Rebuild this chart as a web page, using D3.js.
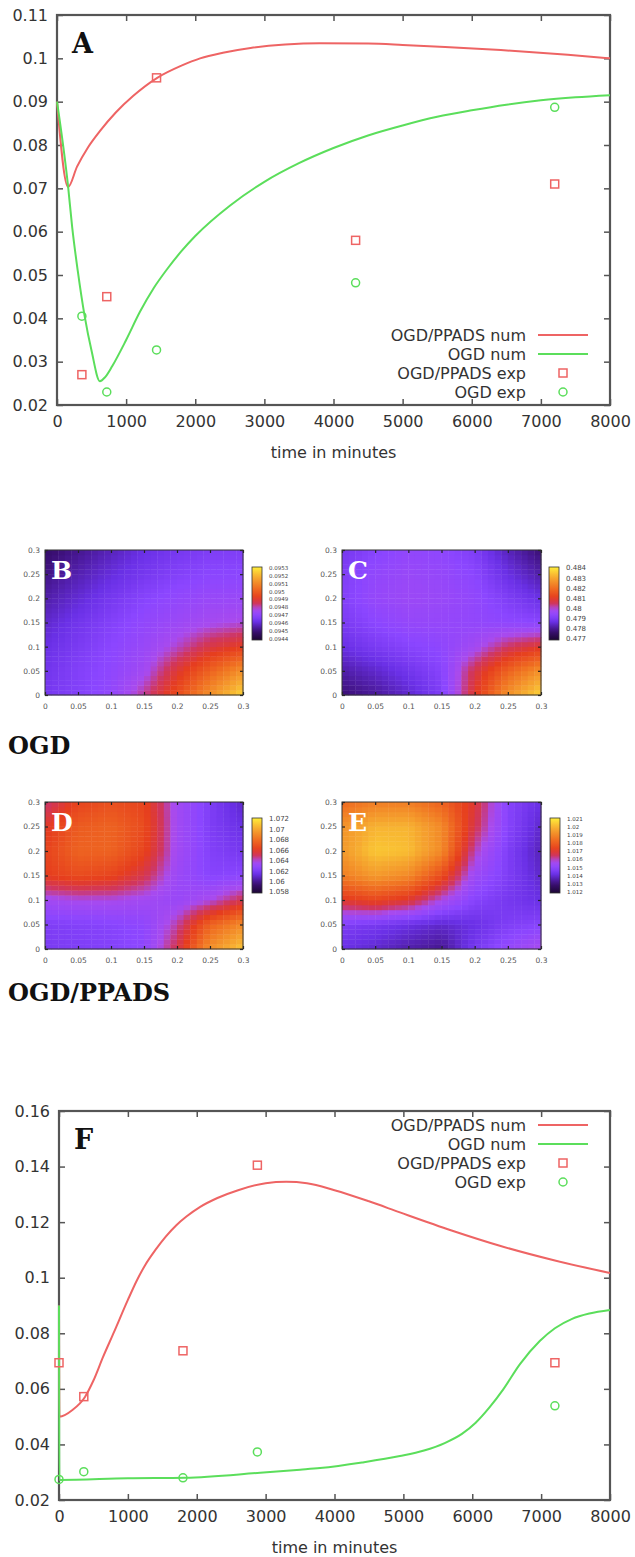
<!DOCTYPE html>
<html>
<head>
<meta charset="utf-8">
<script src="https://cdnjs.cloudflare.com/ajax/libs/d3/7.8.5/d3.min.js"></script>
<style>
  body { margin: 0; background: #fff; }
  svg { display: block; }
</style>
</head>
<body>
<div id="chart"></div>
<script>
// ---- panel A: time courses ----
var xTicks = [0, 1000, 2000, 3000, 4000, 5000, 6000, 7000, 8000];
var yTicksA = [0.02, 0.03, 0.04, 0.05, 0.06, 0.07, 0.08, 0.09, 0.1, 0.11];
var yTicksF = [0.02, 0.04, 0.06, 0.08, 0.1, 0.12, 0.14, 0.16];

var tPpadsNumA = [0, 160, 290, 450, 620, 850, 1100, 1450, 1800, 2070, 2400, 2800, 3300, 3800, 4500, 5000, 6420, 7390, 8000];
var vPpadsNumA = [0.09, 0.0703, 0.075, 0.0795, 0.0832, 0.0875, 0.0913, 0.0955, 0.0983, 0.1, 0.1013, 0.1024, 0.1032, 0.1035, 0.1034, 0.1031, 0.1019, 0.1008, 0.1];
var tOgdNumA = [0, 160, 220, 300, 400, 500, 620, 700, 800, 1000, 1200, 1400, 1600, 1800, 2000, 2500, 3000, 3500, 4000, 4500, 5000, 5500, 6000, 6500, 7000, 7500, 8000];
var vOgdNumA = [0.09, 0.0705, 0.061, 0.051, 0.0405, 0.0325, 0.0255, 0.0265, 0.029, 0.035, 0.0415, 0.047, 0.0515, 0.0555, 0.059, 0.066, 0.0715, 0.0758, 0.0793, 0.0822, 0.0845, 0.0865, 0.088, 0.0893, 0.0903, 0.091, 0.0915];
var tExpA = [360, 720, 1440, 4320, 7200];
var vPpadsExpA = [0.027, 0.045, 0.0955, 0.058, 0.071];
var vOgdExpA = [0.0405, 0.023, 0.0327, 0.0482, 0.0887];

// ---- panel F: time courses ----
var tPpadsNumF = [0, 5, 200, 377, 500, 640, 800, 1000, 1130, 1250, 1400, 1550, 1700, 1850, 2050, 2300, 2600, 3000, 3300, 3600, 4000, 4500, 4950, 5700, 6400, 7200, 8000];
var vPpadsNumF = [0.09, 0.05, 0.0525, 0.0571, 0.063, 0.0715, 0.0805, 0.092, 0.099, 0.1045, 0.11, 0.1148, 0.1188, 0.122, 0.1255, 0.1287, 0.1315, 0.134, 0.1345, 0.134, 0.1315, 0.1275, 0.1235, 0.117, 0.1115, 0.1062, 0.1017];
var tOgdNumF = [0, 5, 1000, 1830, 2920, 3500, 3790, 4400, 4950, 5300, 5600, 5850, 6050, 6250, 6450, 6690, 6980, 7200, 7450, 7700, 8000];
var vOgdNumF = [0.09, 0.0272, 0.0278, 0.028, 0.0298, 0.0309, 0.0315, 0.0335, 0.0358, 0.0378, 0.0405, 0.0438, 0.0478, 0.0533, 0.0598, 0.0688, 0.0772, 0.0818, 0.0852, 0.0871, 0.0884];
var tExpF = [0, 360, 1800, 2880, 7200];
var vPpadsExpF = [0.0694, 0.0572, 0.0737, 0.1405, 0.0694];
var vOgdExpF = [0.0274, 0.0302, 0.028, 0.0373, 0.0539];

var legendLabels = ["OGD/PPADS num", "OGD num", "OGD/PPADS exp", "OGD exp"];

// ---- heat maps B-E: colour level (0 = bottom of colour bar, 1 = top) ----
var gridX = [0, 0.05, 0.1, 0.15, 0.2, 0.25, 0.3];
var gridY = [0.3, 0.25, 0.2, 0.15, 0.1, 0.05, 0];   // rows, top to bottom
var hTickLabels = ["0", "0.05", "0.1", "0.15", "0.2", "0.25", "0.3"];

var levelsB = [
  [0.10, 0.15, 0.20, 0.25, 0.28, 0.30, 0.30],
  [0.14, 0.19, 0.24, 0.28, 0.31, 0.33, 0.33],
  [0.18, 0.23, 0.28, 0.32, 0.35, 0.37, 0.37],
  [0.22, 0.27, 0.31, 0.35, 0.38, 0.41, 0.43],
  [0.25, 0.29, 0.33, 0.37, 0.44, 0.53, 0.58],
  [0.27, 0.31, 0.34, 0.40, 0.55, 0.68, 0.80],
  [0.28, 0.31, 0.35, 0.47, 0.62, 0.80, 0.95]
];
var levelsC = [
  [0.28, 0.32, 0.35, 0.34, 0.30, 0.20, 0.12],
  [0.30, 0.35, 0.37, 0.36, 0.33, 0.25, 0.18],
  [0.31, 0.36, 0.38, 0.37, 0.35, 0.30, 0.25],
  [0.29, 0.33, 0.36, 0.36, 0.35, 0.34, 0.33],
  [0.25, 0.29, 0.32, 0.34, 0.40, 0.50, 0.56],
  [0.18, 0.22, 0.27, 0.32, 0.52, 0.68, 0.80],
  [0.12, 0.16, 0.22, 0.30, 0.56, 0.80, 0.95]
];
var levelsD = [
  [0.48, 0.60, 0.63, 0.60, 0.40, 0.30, 0.22],
  [0.56, 0.66, 0.68, 0.62, 0.40, 0.30, 0.25],
  [0.60, 0.68, 0.68, 0.60, 0.40, 0.31, 0.28],
  [0.58, 0.62, 0.60, 0.52, 0.38, 0.32, 0.33],
  [0.40, 0.42, 0.42, 0.40, 0.37, 0.42, 0.52],
  [0.30, 0.31, 0.32, 0.34, 0.46, 0.68, 0.78],
  [0.29, 0.30, 0.31, 0.34, 0.52, 0.80, 0.92]
];
var levelsE = [
  [0.70, 0.75, 0.75, 0.68, 0.55, 0.32, 0.25],
  [0.80, 0.88, 0.88, 0.78, 0.52, 0.32, 0.22],
  [0.82, 0.92, 0.90, 0.78, 0.45, 0.30, 0.20],
  [0.75, 0.82, 0.78, 0.62, 0.38, 0.30, 0.22],
  [0.56, 0.60, 0.55, 0.42, 0.32, 0.28, 0.25],
  [0.30, 0.28, 0.25, 0.22, 0.25, 0.30, 0.32],
  [0.25, 0.22, 0.18, 0.15, 0.28, 0.36, 0.42]
];

// colour bar tick labels (bottom to top)
var cbTicksB = ["0.0944", "0.0945", "0.0946", "0.0947", "0.0948", "0.0949", "0.095", "0.0951", "0.0952", "0.0953"];
var cbTicksC = ["0.477", "0.478", "0.479", "0.48", "0.481", "0.482", "0.483", "0.484"];
var cbTicksD = ["1.058", "1.06", "1.062", "1.064", "1.066", "1.068", "1.07", "1.072"];
var cbTicksE = ["1.012", "1.013", "1.014", "1.015", "1.016", "1.017", "1.018", "1.019", "1.02", "1.021"];

var RED = "#ee6464", GREEN = "#5bde5b";
var SANS = "DejaVu Sans, sans-serif", SERIF = "DejaVu Serif, serif";

var svg = d3.select("#chart").append("svg").attr("width", 635).attr("height", 1557);

function lineChart(c) {
    var x = d3.scaleLinear().domain([0, 8000]).range([c.left, c.right]);
    var y = d3.scaleLinear().domain([c.yTicks[0], c.yTicks[c.yTicks.length - 1]]).range([c.bottom, c.top]);
    var g = svg.append("g");

    var style = s => s.attr("font-family", SANS).attr("font-size", 16)
        .call(s => s.select(".domain").remove())
        .call(s => s.selectAll(".tick line").attr("stroke", "#555").attr("stroke-width", 1.5))
        .call(s => s.selectAll(".tick text").attr("fill", "#333"));

    g.append("g").attr("transform", `translate(0,${c.bottom})`)
        .call(d3.axisBottom(x).tickValues(xTicks).tickSize(-6).tickPadding(11).tickFormat(d3.format("d")))
        .call(style);
    g.append("g").attr("transform", `translate(0,${c.top})`)
        .call(d3.axisTop(x).tickValues(xTicks).tickSize(-6).tickFormat(""))
        .call(style);
    g.append("g").attr("transform", `translate(${c.left},0)`)
        .call(d3.axisLeft(y).tickValues(c.yTicks).tickSize(-6).tickPadding(9).tickFormat(d => String(d)))
        .call(style);
    g.append("g").attr("transform", `translate(${c.right},0)`)
        .call(d3.axisRight(y).tickValues(c.yTicks).tickSize(-6).tickFormat(""))
        .call(style);

    g.append("rect").attr("x", c.left).attr("y", c.top)
        .attr("width", c.right - c.left).attr("height", c.bottom - c.top)
        .attr("fill", "none").attr("stroke", "#555").attr("stroke-width", 2.2);

    g.append("text").attr("x", (c.left + c.right) / 2).attr("y", c.bottom + 53)
        .attr("text-anchor", "middle").attr("font-family", SANS).attr("font-size", 16)
        .attr("fill", "#333").text("time in minutes");

    var line = d3.line().x(d => x(d[0])).y(d => y(d[1])).curve(d3.curveMonotoneX);
    g.append("path").datum(d3.zip(c.tRed, c.vRed)).attr("d", line)
        .attr("fill", "none").attr("stroke", RED).attr("stroke-width", 2);
    g.append("path").datum(d3.zip(c.tGreen, c.vGreen)).attr("d", line)
        .attr("fill", "none").attr("stroke", GREEN).attr("stroke-width", 2);

    g.selectAll("rect.sq").data(d3.zip(c.tExp, c.vRedExp)).join("rect").attr("class", "sq")
        .attr("x", d => x(d[0]) - 4).attr("y", d => y(d[1]) - 4)
        .attr("width", 8).attr("height", 8)
        .attr("fill", "none").attr("stroke", RED).attr("stroke-width", 1.5);
    g.selectAll("circle.ci").data(d3.zip(c.tExp, c.vGreenExp)).join("circle").attr("class", "ci")
        .attr("cx", d => x(d[0])).attr("cy", d => y(d[1])).attr("r", 4)
        .attr("fill", "none").attr("stroke", GREEN).attr("stroke-width", 1.5);

    // legend
    var lg = g.append("g");
    legendLabels.forEach(function (lab, i) {
        var ly = c.legendY + i * 19;
        lg.append("text").attr("x", c.right - 84).attr("y", ly).attr("dy", "0.35em")
            .attr("text-anchor", "end").attr("font-family", SANS).attr("font-size", 16)
            .attr("fill", "#333").text(lab);
        var col = (i % 2 === 0) ? RED : GREEN;
        if (i < 2) {
            lg.append("line").attr("x1", c.right - 72).attr("x2", c.right - 22)
                .attr("y1", ly).attr("y2", ly).attr("stroke", col).attr("stroke-width", 2);
        } else if (i === 2) {
            lg.append("rect").attr("x", c.right - 51).attr("y", ly - 4).attr("width", 8).attr("height", 8)
                .attr("fill", "none").attr("stroke", col).attr("stroke-width", 1.5);
        } else {
            lg.append("circle").attr("cx", c.right - 47).attr("cy", ly).attr("r", 4)
                .attr("fill", "none").attr("stroke", col).attr("stroke-width", 1.5);
        }
    });

    g.append("text").attr("x", c.left + 15).attr("y", c.top + 38)
        .attr("font-family", SERIF).attr("font-weight", "bold").attr("font-size", 27)
        .attr("fill", "#111").text(c.letter);
}

lineChart({
    letter: "A", left: 57, right: 610, top: 15, bottom: 405, yTicks: yTicksA,
    tRed: tPpadsNumA, vRed: vPpadsNumA, tGreen: tOgdNumA, vGreen: vOgdNumA,
    tExp: tExpA, vRedExp: vPpadsExpA, vGreenExp: vOgdExpA, legendY: 335
});
lineChart({
    letter: "F", left: 59, right: 610, top: 1111, bottom: 1500, yTicks: yTicksF,
    tRed: tPpadsNumF, vRed: vPpadsNumF, tGreen: tOgdNumF, vGreen: vOgdNumF,
    tExp: tExpF, vRedExp: vPpadsExpF, vGreenExp: vOgdExpF, legendY: 1125
});

// ---- heat maps ----
var colour = d3.scaleLinear()
    .domain([0, 0.12, 0.25, 0.33, 0.42, 0.5, 0.58, 0.72, 0.86, 1])
    .range(["#1c0633", "#3b0f74", "#6a30e6", "#8b46ff", "#a84aee", "#d0365e", "#e63d1e", "#f07222", "#f6aa30", "#ffee3a"])
    .clamp(true);

function levelAt(grid, xv, yv) {
    var c = Math.min(xv / 0.05, 5.9999), r = Math.min((0.3 - yv) / 0.05, 5.9999);
    var c0 = Math.floor(c), r0 = Math.floor(r), fc = c - c0, fr = r - r0;
    var top = d3.interpolateNumber(grid[r0][c0], grid[r0][c0 + 1])(fc);
    var bot = d3.interpolateNumber(grid[r0 + 1][c0], grid[r0 + 1][c0 + 1])(fc);
    return top + (bot - top) * fr;
}

var defs = svg.append("defs");
var grad = defs.append("linearGradient").attr("id", "cbgrad")
    .attr("x1", 0).attr("y1", 1).attr("x2", 0).attr("y2", 0);
d3.range(0, 1.0001, 0.05).forEach(t => grad.append("stop").attr("offset", t).attr("stop-color", colour(t)));

function heatmap(p) {
    var x = d3.scaleLinear().domain([0, 0.3]).range([p.x0, p.x1]);
    var y = d3.scaleLinear().domain([0, 0.3]).range([p.y1, p.y0]);
    var g = svg.append("g");
    var n = 30, step = 0.3 / n, cells = [];
    for (var i = 0; i < n; i++) for (var j = 0; j < n; j++) {
        cells.push({ x: i * step, y: j * step, v: levelAt(p.levels, (i + 0.5) * step, (j + 0.5) * step) });
    }
    g.selectAll("rect.cell").data(cells).join("rect").attr("class", "cell")
        .attr("x", d => x(d.x)).attr("y", d => y(d.y + step))
        .attr("width", x(step) - x(0) + 0.4).attr("height", y(0) - y(step) + 0.4)
        .attr("fill", d => colour(d.v));

    var hStyle = s => s.attr("font-family", SANS).attr("font-size", 7.5)
        .call(s => s.select(".domain").remove())
        .call(s => s.selectAll(".tick line").attr("stroke", "#222").attr("stroke-width", 1.2))
        .call(s => s.selectAll(".tick text").attr("fill", "#555"));
    var fmt = (d, i) => hTickLabels[i];
    g.append("g").attr("transform", `translate(0,${p.y1})`)
        .call(d3.axisBottom(x).tickValues(gridX).tickSize(-3).tickPadding(9).tickFormat(fmt)).call(hStyle);
    g.append("g").attr("transform", `translate(0,${p.y0})`)
        .call(d3.axisTop(x).tickValues(gridX).tickSize(-3).tickFormat("")).call(hStyle);
    g.append("g").attr("transform", `translate(${p.x0},0)`)
        .call(d3.axisLeft(y).tickValues(gridX).tickSize(-3).tickPadding(5).tickFormat(fmt)).call(hStyle);
    g.append("g").attr("transform", `translate(${p.x1},0)`)
        .call(d3.axisRight(y).tickValues(gridX).tickSize(-3).tickFormat("")).call(hStyle);
    g.append("rect").attr("x", p.x0).attr("y", p.y0).attr("width", p.x1 - p.x0).attr("height", p.y1 - p.y0)
        .attr("fill", "none").attr("stroke", "#333").attr("stroke-width", 1);

    // colour bar
    g.append("rect").attr("x", p.cbx).attr("y", p.cby0).attr("width", 10).attr("height", p.cby1 - p.cby0)
        .attr("fill", "url(#cbgrad)").attr("stroke", "#333").attr("stroke-width", 0.8);
    var cbY = d3.scalePoint().domain(p.cbTicks).range([p.cby1 - 1, p.cby0 + 1]);
    g.selectAll("text.cb").data(p.cbTicks).join("text").attr("class", "cb")
        .attr("x", p.cbx + 17).attr("y", d => cbY(d)).attr("dy", "0.35em")
        .attr("font-family", SANS).attr("font-size", p.cbFont).attr("fill", "#444").text(d => d);

    g.append("text").attr("x", p.x0 + 6).attr("y", p.y0 + 29)
        .attr("font-family", SERIF).attr("font-weight", "bold").attr("font-size", 25)
        .attr("fill", "#fff").text(p.letter);
}

heatmap({ letter: "B", levels: levelsB, x0: 45, x1: 243, y0: 550, y1: 695, cbx: 252, cby0: 567, cby1: 640, cbTicks: cbTicksB, cbFont: 5.5 });
heatmap({ letter: "C", levels: levelsC, x0: 342, x1: 541, y0: 550, y1: 695, cbx: 549, cby0: 567, cby1: 640, cbTicks: cbTicksC, cbFont: 7 });
heatmap({ letter: "D", levels: levelsD, x0: 45, x1: 243, y0: 802, y1: 949, cbx: 252, cby0: 818, cby1: 893, cbTicks: cbTicksD, cbFont: 7 });
heatmap({ letter: "E", levels: levelsE, x0: 342, x1: 541, y0: 802, y1: 949, cbx: 550, cby0: 818, cby1: 893, cbTicks: cbTicksE, cbFont: 5.5 });

svg.append("text").attr("x", 8).attr("y", 754).attr("font-family", SERIF).attr("font-weight", "bold")
    .attr("font-size", 24).attr("fill", "#111").text("OGD");
svg.append("text").attr("x", 8).attr("y", 1001).attr("font-family", SERIF).attr("font-weight", "bold")
    .attr("font-size", 24).attr("fill", "#111").text("OGD/PPADS");
</script>
</body>
</html>
